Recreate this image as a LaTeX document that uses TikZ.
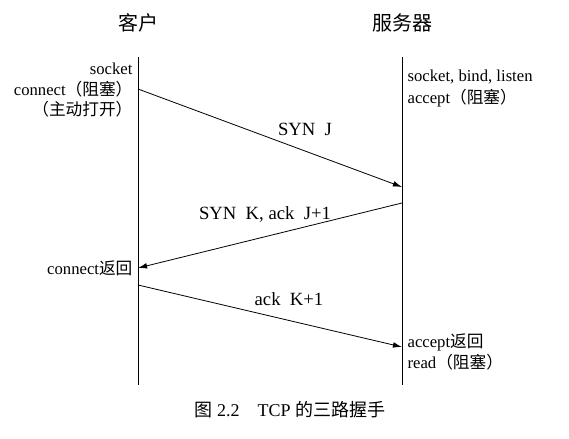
\documentclass[tikz,border=0pt]{standalone}
\usepackage{fontspec}
\setmainfont{Liberation Serif}
\newfontfamily\cjk{Noto Sans CJK SC}
\usetikzlibrary{arrows.meta}

\begin{document}
\begin{tikzpicture}[x=0.75pt,y=-0.75pt,font=\fontsize{12.5}{14}\selectfont,
  msg/.style={-{Latex[length=2.4mm,width=1.5mm]},semithick},
  lbl/.style={inner sep=1pt}]
\useasboundingbox (0,0) rectangle (569,439);
% the two time lines
\coordinate (ktop) at (138,57);
\coordinate (kbot) at (138,385);
\coordinate (ftop) at (402,57);
\coordinate (fbot) at (402,385);
\draw[semithick] (ktop) -- (kbot);
\draw[semithick] (ftop) -- (fbot);
\node[font=\fontsize{15}{17}\selectfont\cjk] (kehu) at (138,23) {客户};
\node[font=\fontsize{15}{17}\selectfont\cjk] (fuwuqi) at (402,23) {服务器};
% client side
\node[lbl,anchor=east] (ksock) at (134,69) {socket};
\node[lbl,anchor=east] (kconn) at (134,89) {connect{\cjk（阻塞）}};
\node[lbl,anchor=east] (kopen) at (134,109) {\cjk（主动打开）};
\node[lbl,anchor=east] (kret) at (134,268) {connect{\cjk 返回}};
% server side
\node[lbl,anchor=west] (fsock) at (406,77) {socket, bind, listen};
\node[lbl,anchor=west] (facc) at (406,98) {accept{\cjk（阻塞）}};
\node[lbl,anchor=west] (fret) at (406,342) {accept{\cjk 返回}};
\node[lbl,anchor=west] (fread) at (406,362) {read{\cjk（阻塞）}};
% segments
\coordinate (a1) at (138,89);
\coordinate (b1) at (402,187);
\coordinate (a2) at (402,203);
\coordinate (b2) at (138,268);
\coordinate (a3) at (138,285);
\coordinate (b3) at (402,347);
\draw[msg] (a1) -- (b1);
\draw[msg] (a2) -- (b2);
\draw[msg] (a3) -- (b3);
\node[font=\fontsize{14}{16}\selectfont] (syn) at (305,129) {SYN\enspace J};
\node[font=\fontsize{14}{16}\selectfont] (synack) at (265,214) {SYN\enspace K, ack\enspace J+1};
\node[font=\fontsize{14}{16}\selectfont] (ack) at (289,299) {ack\enspace K+1};
% caption
\node[font=\fontsize{13.5}{15}\selectfont] (cap) at (290,410) {{\cjk 图} 2.2\quad TCP {\cjk 的三路握手}};
\end{tikzpicture}
\end{document}
